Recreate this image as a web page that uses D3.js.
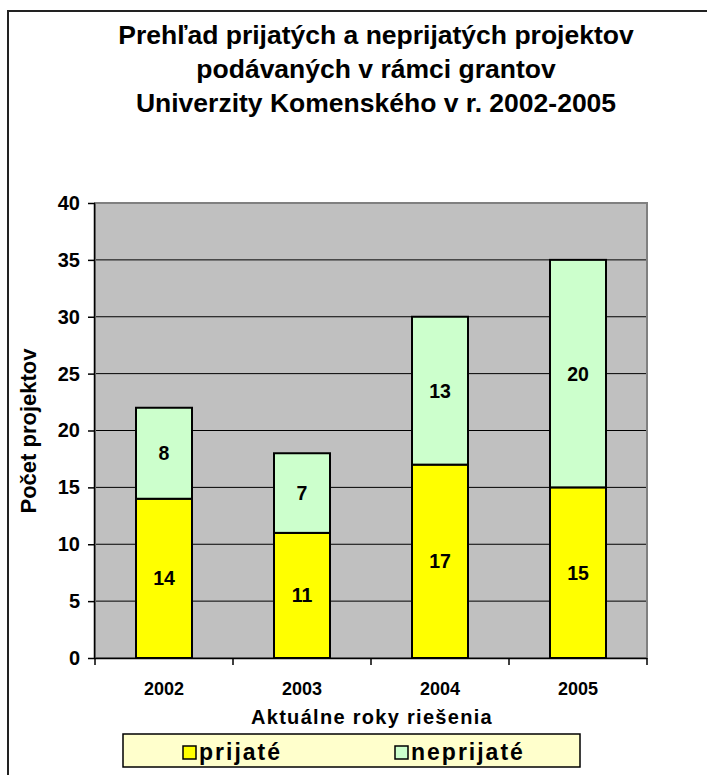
<!DOCTYPE html>
<html><head><meta charset="utf-8">
<script src="https://cdn.jsdelivr.net/npm/d3@7"></script>
<style>body{margin:0;background:#fff}svg{display:block;font-family:"Liberation Sans",Arial,sans-serif;font-weight:bold}</style>
</head><body><svg id="c" width="707" height="775"></svg>
<script>
const titleLines = ["Prehľad prijatých a neprijatých projektov","podávaných v rámci grantov","Univerzity Komenského v r. 2002-2005"];
const years = ["2002","2003","2004","2005"];
const prijate = [14, 11, 17, 15];
const neprijate = [8, 7, 13, 20];
const seriesNames = ["prijaté","neprijaté"];
const seriesColors = ["#FFFF00","#CCFFCC"];
const yTicks = [0,5,10,15,20,25,30,35,40];
const yLabel = "Počet projektov";
const xLabel = "Aktuálne roky riešenia";

const svg = d3.select("#c");
svg.append("rect").attr("x",8).attr("y",11).attr("width",760).attr("height",800)
  .attr("fill","none").attr("stroke","#222").attr("stroke-width",2);

const L=95,R=647,T=203,B=658;
const x = d3.scaleBand().domain(years).range([L,R]).paddingInner(82/138).paddingOuter(41/138);
const xb = d3.scaleBand().domain(years).range([L,R]);
const y = d3.scaleLinear().domain([0,40]).range([B,T]);

svg.append("rect").attr("x",L).attr("y",T).attr("width",R-L).attr("height",B-T).attr("fill","#C0C0C0");
svg.append("g").selectAll("line").data(yTicks.filter(d=>d>0)).join("line")
  .attr("x1",L).attr("x2",R).attr("y1",d=>y(d)).attr("y2",d=>y(d)).attr("stroke","#000").attr("stroke-width",1);
svg.append("rect").attr("x",L).attr("y",T).attr("width",R-L).attr("height",B-T).attr("fill","none").attr("stroke","#808080").attr("stroke-width",2);

const stack = d3.stack().keys([0,1]).value((d,k)=>d[k])(years.map((yr,i)=>[prijate[i],neprijate[i]]));
stack.forEach((s,si)=>{
  const g = svg.append("g");
  g.selectAll("rect").data(s).join("rect")
    .attr("x",(d,i)=>x(years[i])).attr("width",x.bandwidth())
    .attr("y",d=>y(d[1])).attr("height",d=>y(d[0])-y(d[1]))
    .attr("fill",seriesColors[si]).attr("stroke","#000").attr("stroke-width",2);
  g.selectAll("text").data(s).join("text")
    .attr("x",(d,i)=>x(years[i])+x.bandwidth()/2).attr("y",d=>y((d[0]+d[1])/2)+7)
    .attr("text-anchor","middle").attr("font-size",19.5).text(d=>d[1]-d[0]);
});

const ya = svg.append("g").attr("transform",`translate(${L},0)`)
  .call(d3.axisLeft(y).tickValues(yTicks).tickSize(7).tickPadding(8));
ya.select(".domain").attr("stroke","#000").attr("stroke-width",1.5).attr("d",`M-0.5,${B}V${T}`);
ya.selectAll(".tick line").attr("stroke","#000").attr("stroke-width",1.5);
ya.selectAll("text").attr("font-size",20).attr("font-family","Liberation Sans, Arial").attr("font-weight","bold").attr("fill","#000");

const xa = svg.append("g").attr("transform",`translate(0,${B})`)
  .call(d3.axisBottom(xb).tickSize(0).tickPadding(24));
xa.select(".domain").attr("stroke","#000").attr("stroke-width",1.5).attr("d",`M${L},0.5H${R}`);
xa.selectAll("text").attr("font-size",18).attr("font-family","Liberation Sans, Arial").attr("font-weight","bold").attr("fill","#000");
svg.append("g").selectAll("line").data(d3.range(years.length+1)).join("line")
  .attr("x1",i=>L+i*xb.step()).attr("x2",i=>L+i*xb.step()).attr("y1",B).attr("y2",B+7)
  .attr("stroke","#000").attr("stroke-width",1.5);

svg.append("g").selectAll("text").data(titleLines).join("text")
  .attr("x",376).attr("y",(d,i)=>44+i*34).attr("text-anchor","middle").attr("font-size",26.5).text(d=>d);

svg.append("text").attr("transform","translate(36,431) rotate(-90)").attr("text-anchor","middle")
  .attr("font-size",22).text(yLabel);
svg.append("text").attr("x",372).attr("y",724).attr("text-anchor","middle").attr("font-size",20)
  .attr("letter-spacing",1.3).text(xLabel);

svg.append("rect").attr("x",123).attr("y",734).attr("width",457).attr("height",33)
  .attr("fill","#FFFFCC").attr("stroke","#000").attr("stroke-width",1.5);
const lx=[183,395];
seriesNames.forEach((n,i)=>{
  svg.append("rect").attr("x",lx[i]).attr("y",746).attr("width",13).attr("height",13)
    .attr("fill",seriesColors[i]).attr("stroke","#000").attr("stroke-width",1.5);
  svg.append("text").attr("x",lx[i]+16).attr("y",760).attr("font-size",23).attr("letter-spacing",2).text(n);
});
</script></body></html>
